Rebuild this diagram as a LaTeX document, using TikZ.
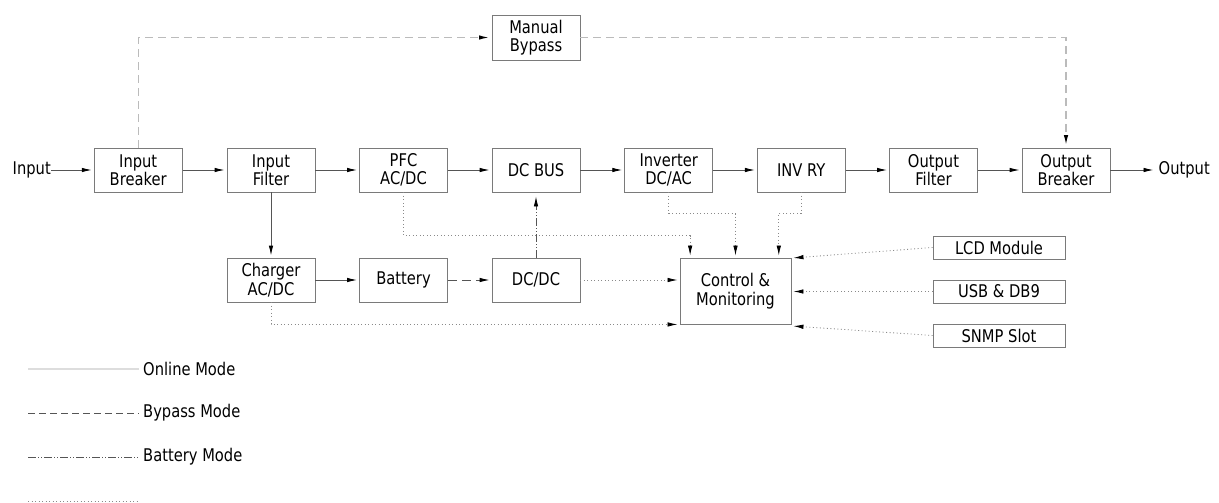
\documentclass[tikz,border=0pt]{standalone}
\usepackage{fontspec}
\setmainfont{DejaVu Sans}[FakeStretch=0.84]
\usetikzlibrary{arrows.meta,calc}
\definecolor{boxgray}{HTML}{7A7A7A}
\definecolor{linegray}{HTML}{555555}
\definecolor{bypassgray}{HTML}{BBBBBB}
\definecolor{dotgray}{HTML}{8A8A8A}
\definecolor{onlinegray}{HTML}{DDDDDD}
\begin{document}
\begin{tikzpicture}[x=1pt,y=-1pt,
  txt/.style={font=\fontsize{17.5}{18.5}\selectfont},
  box/.style={txt,draw=boxgray,line width=0.9pt,minimum width=88pt,minimum height=44pt,align=center,inner sep=1pt},
  sidebox/.style={box,minimum width=132pt,minimum height=23pt},
  tip/.style={-{Latex[length=10pt,width=4.5pt,color=black]}},
  solidline/.style={tip,draw=linegray,line width=0.9pt,shorten >=2pt},
  dashline/.style={tip,draw=linegray,line width=0.9pt,dash pattern=on 9pt off 5pt,shorten >=2pt},
  bypassline/.style={tip,draw=bypassgray,line width=1.3pt,dash pattern=on 8pt off 5pt,shorten >=2.5pt},
  battline/.style={tip,draw=linegray,line width=0.8pt,dash pattern=on 8pt off 2pt on 1pt off 2pt on 1pt off 2pt,shorten >=4pt},
  dotline/.style={tip,draw=dotgray,line width=0.8pt,dash pattern=on 1pt off 2.5pt,shorten >=2pt},
]
\useasboundingbox (0,0) rectangle (1219,503);

% main row
\node[box] (ib)  at (138.2,170) {Input\\Breaker};
\node[box] (if)  at (271,170)   {Input\\Filter};
\node[box] (pfc) at (403.5,170) {PFC\\AC/DC};
\node[box] (dcb) at (536,170)   {DC BUS};
\node[box] (inv) at (668.7,170) {Inverter\\DC/AC};
\node[box] (ry)  at (801.3,170) {INV RY};
\node[box] (of)  at (933.5,170) {Output\\Filter};
\node[box] (ob)  at (1066,170)  {Output\\Breaker};
\node[box,minimum height=45pt] (mb) at (536,37.5) {Manual\\Bypass};

\node[txt,anchor=east,inner sep=0pt] (in) at (51,170) {Input};
\node[txt,anchor=west,inner sep=0pt] (out) at (1158.5,170) {Output};

% second row
\node[box] (chg) at (271,280)   {Charger\\AC/DC};
\node[box] (bat) at (403.5,280) {Battery};
\node[box] (dcdc) at (536,280)  {DC/DC};
\node[box,minimum width=111pt,minimum height=66pt] (ctl) at (735.5,291) {Control \&\\Monitoring};

\node[sidebox] (lcd)  at (999,247.5) {LCD Module};
\node[sidebox] (usb)  at (999,291.5) {USB \& DB9};
\node[sidebox] (snmp) at (999,335.5) {SNMP Slot};

% main solid connectors
\draw[solidline] (in.east) -- (ib.west);
\draw[solidline] (ib) -- (if);
\draw[solidline] (if) -- (pfc);
\draw[solidline] (pfc) -- (dcb);
\draw[solidline] (dcb) -- (inv);
\draw[solidline] (inv) -- (ry);
\draw[solidline] (ry) -- (of);
\draw[solidline] (of) -- (ob);
\draw[solidline,shorten >=5pt] (ob.east) -- (out.west);
\draw[solidline] (if) -- (chg);
\draw[solidline] (chg) -- (bat);

% bypass
\draw[bypassline] (ib.north) |- (mb.west);
\draw[bypassline] (mb.east) -| (ob.north);

% battery mode
\draw[dashline] (bat) -- (dcdc);
\draw[battline] (dcdc.north) -- (dcb.south);

% monitoring (dotted)
\draw[dotline] (pfc.south) |- ($(ctl.north west)+(10.6,-22)$) -- ([xshift=10.6pt]ctl.north west);
\draw[dotline] (inv.south) |- ($(ctl.north)+(0,-44)$) -- (ctl.north);
\draw[dotline] (ry.south) |- ($(ctl.north)+(43.3,-44)$) -- ([xshift=43.3pt]ctl.north);
\draw[dotline] (dcdc.east) -- (dcdc.east -| ctl.west);
\draw[dotline] (chg.south) |- (ctl.south west);
\draw[dotline] (lcd.west) -- ([yshift=-0.5pt]ctl.north east);
\draw[dotline] (usb.west) -- (usb.west -| ctl.east);
\draw[dotline] (snmp.west) -- ([yshift=-1.5pt]ctl.south east);

% legend
\node[txt,anchor=west,inner sep=0pt] (l1) at (143,369) {Online Mode};
\node[txt,anchor=west,inner sep=0pt] (l2) at (143,413) {Bypass Mode};
\node[txt,anchor=west,inner sep=0pt] (l3) at (143,457) {Battery Mode};
\coordinate (s1) at (28,369);
\coordinate (s2) at (28,413);
\coordinate (s3) at (28,457);
\coordinate (s4) at (28,501);
\coordinate (e4) at (138,501);
\draw[draw=onlinegray,line width=1.3pt] (s1) -- ([xshift=-4pt]l1.west);
\draw[draw=linegray,line width=0.8pt,dash pattern=on 7pt off 4pt] (s2) -- ([xshift=-4pt]l2.west);
\draw[draw=linegray,line width=0.8pt,dash pattern=on 8pt off 2pt on 1pt off 2pt on 1pt off 2pt] (s3) -- ([xshift=-4pt]l3.west);
\draw[draw=dotgray,line width=0.8pt,dash pattern=on 1pt off 2.5pt] (s4) -- (e4);
\end{tikzpicture}
\end{document}
